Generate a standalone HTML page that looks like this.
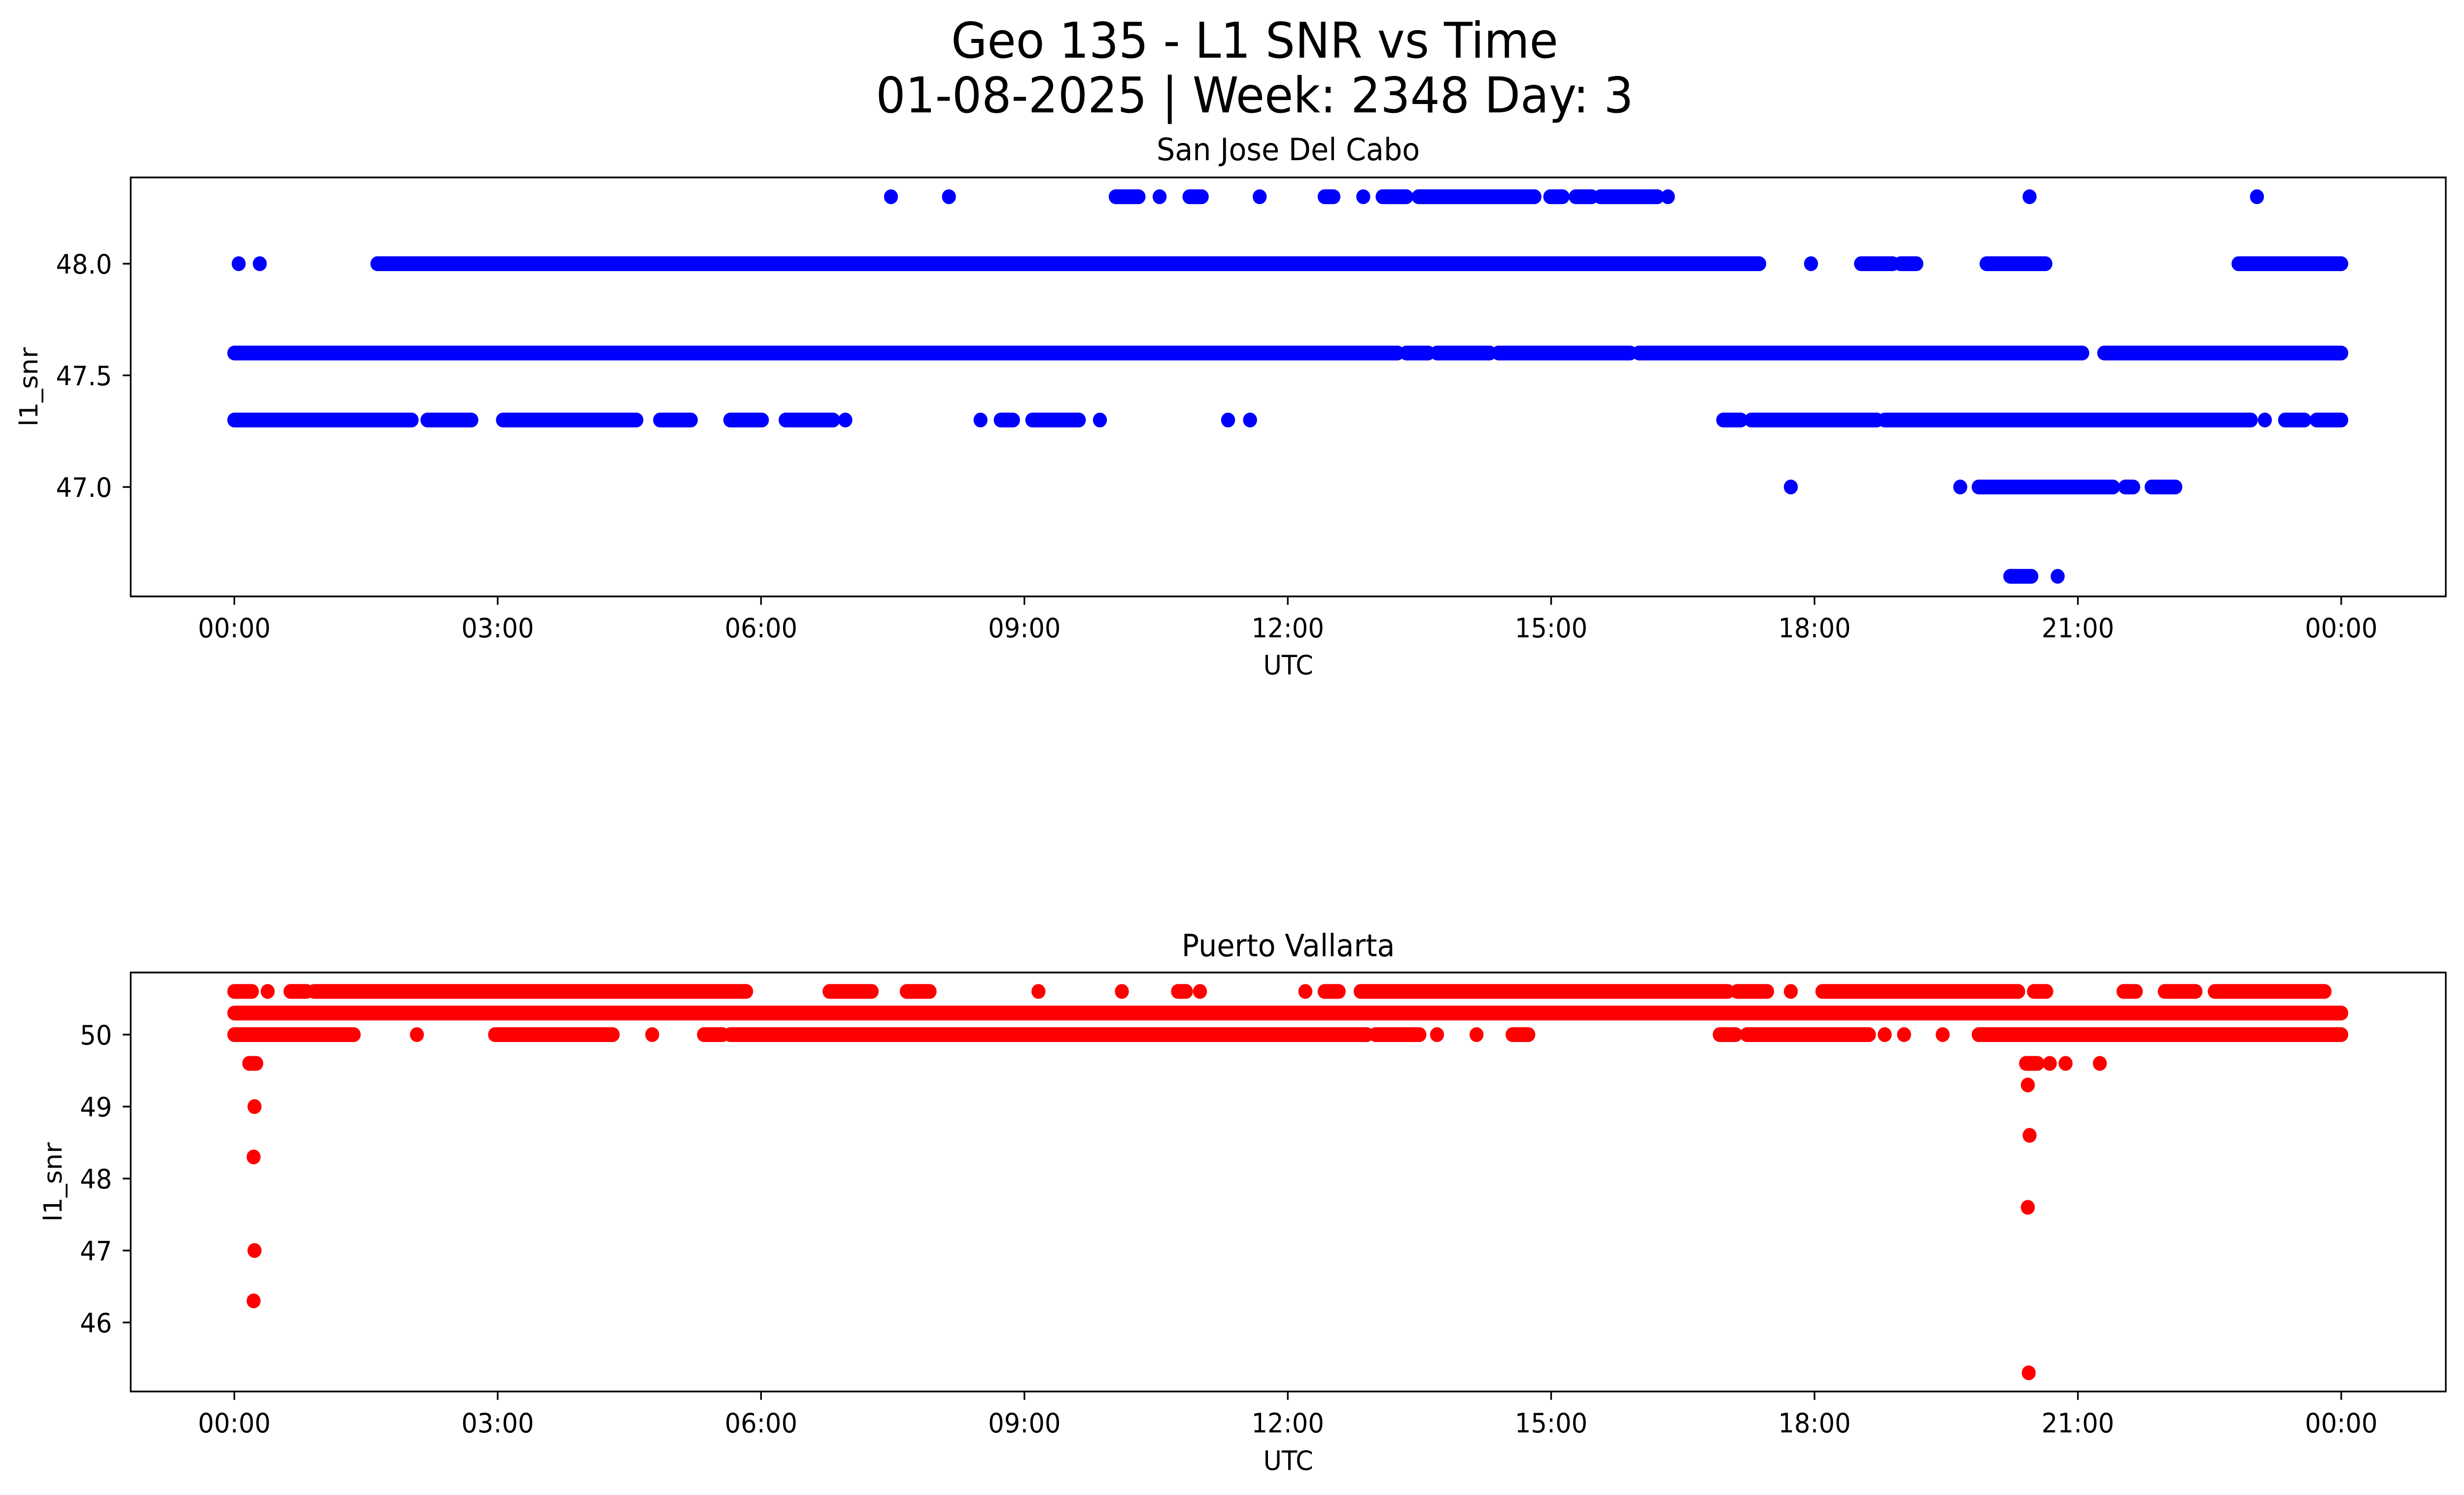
<!DOCTYPE html>
<html><head><meta charset="utf-8">
<style>
html,body{margin:0;padding:0;background:#fff;overflow:hidden;}
svg{display:block;width:100vw;height:100vh;font-family:"DejaVu Sans","Liberation Sans",sans-serif;}
</style></head>
<body>
<svg id="fig" viewBox="0 0 5279 3033" preserveAspectRatio="none" xmlns="http://www.w3.org/2000/svg">
<rect x="0" y="0" width="5279" height="3033" fill="#fff"/>
<text x="2688" y="117" font-size="100" text-anchor="middle">Geo 135 - L1 SNR vs Time</text>
<text x="2688" y="228" font-size="100" text-anchor="middle">01-08-2025 | Week: 2348 Day: 3</text>
<g id="top"></g>
<g id="bot"></g>
</svg>
<script>
// x tick labels (hours)
const xTickHours = [0, 3, 6, 9, 12, 15, 18, 21, 24];
const xTickLabels = ["00:00","03:00","06:00","09:00","12:00","15:00","18:00","21:00","00:00"];
// Top panel (San Jose Del Cabo): each run = [level, startHour, endHour]
const topYTicks = [47.0, 47.5, 48.0];
const topYTickLabels = ["47.0","47.5","48.0"];
const topRuns = [
 [48.3,7.48,7.48],[48.3,8.14,8.14],[48.3,10.04,10.30],[48.3,10.54,10.54],[48.3,10.88,11.02],[48.3,11.68,11.68],
 [48.3,12.42,12.52],[48.3,12.86,12.86],[48.3,13.08,13.35],[48.3,13.49,14.81],[48.3,14.99,15.13],[48.3,15.28,15.46],
 [48.3,15.56,16.21],[48.3,16.33,16.33],[48.3,20.45,20.45],[48.3,23.04,23.04],
 [48.0,0.05,0.05],[48.0,0.29,0.29],[48.0,1.63,17.37],[48.0,17.96,17.96],[48.0,18.53,18.89],[48.0,18.98,19.16],
 [48.0,19.96,20.63],[48.0,22.83,24.0],
 [47.6,0,13.25],[47.6,13.35,13.6],[47.6,13.7,14.3],[47.6,14.4,15.9],[47.6,16.0,21.05],[47.6,21.3,24],
 [47.3,0,2.02],[47.3,2.2,2.7],[47.3,3.06,4.58],[47.3,4.85,5.2],[47.3,5.65,6.01],[47.3,6.28,6.82],[47.3,6.96,6.96],
 [47.3,8.5,8.5],[47.3,8.73,8.87],[47.3,9.09,9.62],[47.3,9.86,9.86],[47.3,11.32,11.32],[47.3,11.57,11.57],
 [47.3,16.96,17.16],[47.3,17.28,18.71],[47.3,18.8,22.97],[47.3,23.13,23.13],[47.3,23.36,23.58],[47.3,23.72,24],
 [47.0,17.73,17.73],[47.0,19.66,19.66],[47.0,19.87,21.4],[47.0,21.54,21.63],[47.0,21.84,22.11],
 [46.6,20.23,20.47],[46.6,20.77,20.77]
];
// Bottom panel (Puerto Vallarta)
const botYTicks = [46, 47, 48, 49, 50];
const botYTickLabels = ["46","47","48","49","50"];
const botRuns = [
 [50.3,0,24],
 [50.0,0,1.36],[50.0,2.08,2.08],[50.0,2.97,4.31],[50.0,4.76,4.76],[50.0,5.35,5.56],[50.0,5.65,12.9],[50.0,13.0,13.5],
 [50.0,13.7,13.7],[50.0,14.15,14.15],[50.0,14.56,14.74],[50.0,16.92,17.1],[50.0,17.23,18.62],[50.0,18.8,18.8],
 [50.0,19.02,19.02],[50.0,19.46,19.46],[50.0,19.87,24.0],
 [50.6,0,0.2],[50.6,0.38,0.38],[50.6,0.64,0.82],[50.6,0.91,5.83],[50.6,6.78,7.26],[50.6,7.66,7.92],[50.6,9.16,9.16],
 [50.6,10.11,10.11],[50.6,10.75,10.84],[50.6,11.0,11.0],[50.6,12.2,12.2],[50.6,12.42,12.58],[50.6,12.83,17.01],
 [50.6,17.12,17.46],[50.6,17.73,17.73],[50.6,18.09,20.32],[50.6,20.5,20.64],[50.6,21.52,21.66],[50.6,21.99,22.34],
 [50.6,22.56,23.81],
 [49.6,0.17,0.25],[49.0,0.23,0.23],[48.3,0.22,0.22],[47.0,0.23,0.23],[46.3,0.22,0.22],
 [49.6,20.41,20.54],[49.6,20.68,20.68],[49.6,20.86,20.86],[49.6,21.25,21.25],
 [49.3,20.43,20.43],[48.6,20.45,20.45],[47.6,20.43,20.43],[45.3,20.44,20.44]
];

const NS = "http://www.w3.org/2000/svg";
const AX_L = 280, AX_R = 5240;
function xScale(h){ return 502 + h * (5016 - 502) / 24; }
function topY(v){ return 535 - (v - 48.0) * 453; }
function botY(v){ return 2099 - (v - 50) * 146; }
function mk(tag, attrs, parent){
  const e = document.createElementNS(NS, tag);
  for (const k in attrs) e.setAttribute(k, attrs[k]);
  parent.appendChild(e); return e;
}
function panel(g, top, bottom, yFn, yTicks, yLabels, runs, color, title, titleY, xLabelBase, ylabelX){
  const t = mk("text", {x:2760, y:titleY, "font-size":62, "text-anchor":"middle"}, g);
  t.textContent = title;
  
  
  const marks = mk("g", {}, g);
  
  
  runs.forEach(r => {
    const y = yFn(r[0]);
    const ln = mk("line", {x1:xScale(r[1]), y1:y, x2:xScale(r[2]), y2:y, stroke:color, "stroke-width":30, "stroke-linecap":"round"}, marks);
    
    
  });
  const frame = mk("rect", {x:AX_L, y:top, width:AX_R-AX_L, height:bottom-top, fill:"none", stroke:"#000", "stroke-width":3.5}, g);
  
  
  xTickHours.forEach((h, i) => {
    const x = xScale(h);
    const tk = mk("line", {x1:x, y1:bottom, x2:x, y2:bottom+17, stroke:"#000", "stroke-width":3.5}, g);
    
    
    const tl = mk("text", {x:x, y:bottom+83, "font-size":54, "text-anchor":"middle"}, g);
    tl.textContent = xTickLabels[i];
    
    
  });
  yTicks.forEach((v, i) => {
    const y = yFn(v);
    const tk = mk("line", {x1:AX_L-17, y1:y, x2:AX_L, y2:y, stroke:"#000", "stroke-width":3.5}, g);
    
    
    const tl = mk("text", {x:AX_L-40, y:y+20, "font-size":54, "text-anchor":"end"}, g);
    tl.textContent = yLabels[i];
    
    
  });
  const xl = mk("text", {x:2760, y:xLabelBase, "font-size":54, "text-anchor":"middle"}, g);
  xl.textContent = "UTC";
  
  
  const cy = (top + bottom) / 2;
  const yl = mk("text", {x:ylabelX, y:cy, "font-size":54, "text-anchor":"middle", transform:"rotate(-90 "+ylabelX+" "+cy+")"}, g);
  yl.textContent = "l1_snr";
  
  
}
panel(document.getElementById("top"), 360, 1210, topY, topYTicks, topYTickLabels, topRuns, "#0000ff", "San Jose Del Cabo", 325, 1368, 80);
panel(document.getElementById("bot"), 1973, 2823, botY, botYTicks, botYTickLabels, botRuns, "#ff0000", "Puerto Vallarta", 1940, 2982, 132);
</script>
</body></html>
